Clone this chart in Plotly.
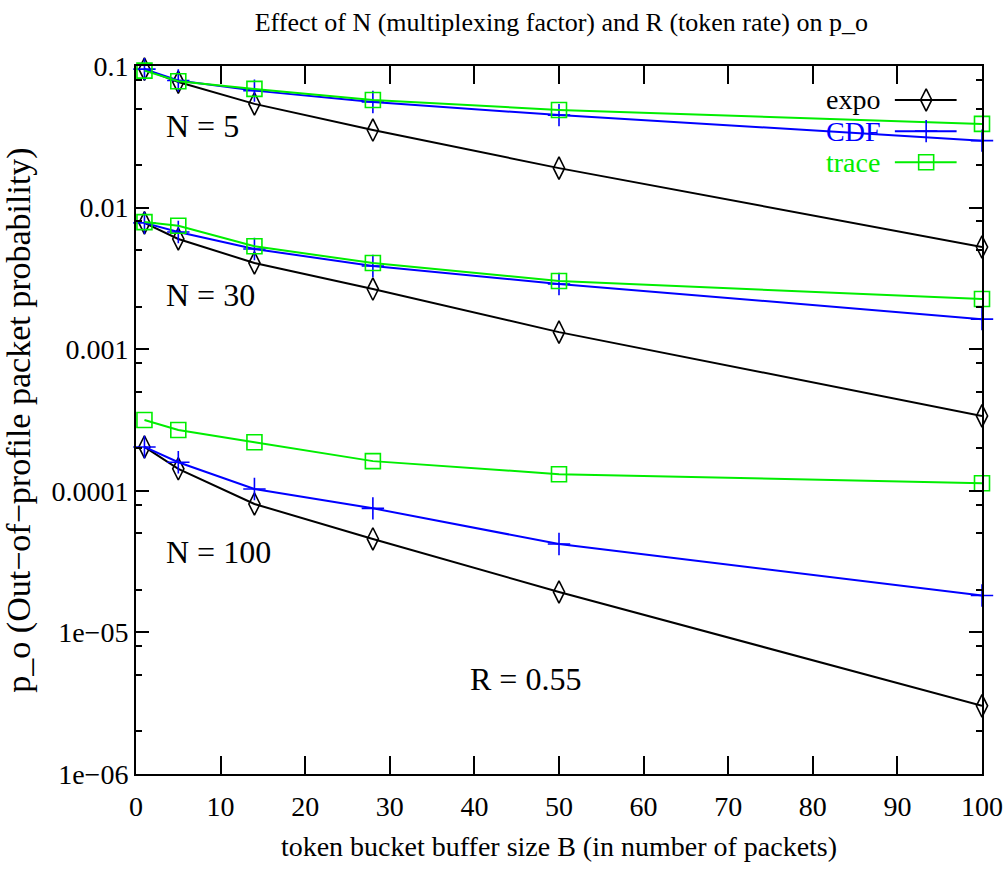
import plotly.graph_objects as go

# ---------------- data ----------------
B = [1, 5, 14, 28, 50, 100]

expo_n5 = [0.095, 0.077, 0.054, 0.0353, 0.019, 0.00527]
cdf_n5 = [0.095, 0.079, 0.067, 0.0557, 0.045, 0.0297]
trace_n5 = [0.0927, 0.078, 0.0689, 0.0575, 0.0489, 0.039]

expo_n30 = [0.0078, 0.0060, 0.00406, 0.00266, 0.00132, 0.000338]
cdf_n30 = [0.0078, 0.00673, 0.0051, 0.00387, 0.00289, 0.00163]
trace_n30 = [0.0079, 0.00745, 0.00533, 0.00406, 0.00303, 0.00226]

expo_n100 = [0.000204, 0.000143, 8.07e-5, 4.57e-5, 1.93e-5, 3.03e-6]
cdf_n100 = [0.000204, 0.000159, 0.000103, 7.52e-5, 4.21e-5, 1.82e-5]
trace_n100 = [0.000316, 0.000269, 0.00022, 0.000162, 0.000131, 0.000113]

series_names = ["expo", "CDF", "trace"]
x_ticks = [0, 10, 20, 30, 40, 50, 60, 70, 80, 90, 100]
y_ticks = [0.1, 0.01, 0.001, 0.0001, 1e-5, 1e-6]
y_tick_labels = ["0.1", "0.01", "0.001", "0.0001", "1e\u221205", "1e\u221206"]
y_minor = [m * 10.0 ** e for e in range(-6, -1) for m in (2, 5, 8)]

group_labels = ["N = 5", "N = 30", "N = 100"]
rate_label = "R = 0.55"

# ---------------- styles ----------------
FONT = "Liberation Serif"
styles = {
    "expo": dict(color="black", symbol="diamond-tall-open", size=16),
    "CDF": dict(color="#0000ff", symbol="cross-thin-open", size=16),
    "trace": dict(color="#00ee00", symbol="square-open", size=15),
}

groups = [
    {"expo": expo_n5, "CDF": cdf_n5, "trace": trace_n5},
    {"expo": expo_n30, "CDF": cdf_n30, "trace": trace_n30},
    {"expo": expo_n100, "CDF": cdf_n100, "trace": trace_n100},
]

fig = go.Figure()
for g in groups:
    for name in series_names:
        st = styles[name]
        fig.add_trace(go.Scatter(
            x=B, y=g[name], mode="lines+markers", showlegend=False,
            line=dict(color=st["color"], width=2),
            marker=dict(symbol=st["symbol"], size=st["size"],
                        color=st["color"], line=dict(color=st["color"], width=1.6)),
            cliponaxis=False, name=name,
        ))

# ---------------- custom gnuplot-style key ----------------
key_y = [0.952, 0.908, 0.864]
for name, ky in zip(series_names, key_y):
    st = styles[name]
    fig.add_trace(go.Scatter(
        x=[0.897, 0.970], y=[ky, ky], mode="lines", xaxis="x2", yaxis="y2",
        line=dict(color=st["color"], width=2), showlegend=False, hoverinfo="skip"))
    fig.add_trace(go.Scatter(
        x=[0.934], y=[ky], mode="markers", xaxis="x2", yaxis="y2",
        marker=dict(symbol=st["symbol"], size=st["size"], color=st["color"],
                    line=dict(color=st["color"], width=1.6)),
        showlegend=False, hoverinfo="skip"))
    fig.add_annotation(x=0.882, y=ky, xref="paper", yref="paper", text=name,
                       showarrow=False, xanchor="right", yanchor="middle",
                       font=dict(family=FONT, size=28, color=st["color"]))

# ---------------- labels inside the plot ----------------
label_pos = [(7.9, -1.424), (8.8, -2.615), (9.7, -4.43)]
for txt, (lx, ly) in zip(group_labels, label_pos):
    fig.add_annotation(x=lx, y=ly, xref="x", yref="y", text=txt, showarrow=False,
                       font=dict(family=FONT, size=32, color="black"))
fig.add_annotation(x=46, y=-5.33, xref="x", yref="y", text=rate_label, showarrow=False,
                   font=dict(family=FONT, size=32, color="black"))

axis_common = dict(showgrid=False, zeroline=False, showline=True, linecolor="black",
                   linewidth=2, mirror="ticks", ticks="inside", tickcolor="black",
                   tickwidth=1.5, automargin=False)

fig.update_layout(
    width=1006, height=875,
    paper_bgcolor="white", plot_bgcolor="white",
    margin=dict(l=136, r=24, t=66, b=101, autoexpand=False),
    font=dict(family=FONT, color="black"),
    title=dict(text="Effect of N (multiplexing factor) and R (token rate) on p_o",
               x=0.558, xanchor="center", y=0.975, yanchor="middle",
               font=dict(family=FONT, size=26, color="black")),
    xaxis=dict(range=[0, 100], tickvals=x_ticks, ticklen=18, ticklabelstandoff=6,
               tickfont=dict(family=FONT, size=28),
               title=dict(text="token bucket buffer size B (in number of packets)",
                          font=dict(family=FONT, size=28), standoff=16),
               **axis_common),
    yaxis=dict(type="log", range=[-6, -1], tickvals=y_ticks, ticktext=y_tick_labels,
               ticklen=13, tickfont=dict(family=FONT, size=28),
               minor=dict(tickvals=y_minor, ticks="inside", ticklen=6,
                          tickcolor="black", tickwidth=1.5),
               title=dict(text="p_o (Out\u2212of\u2212profile packet probability)",
                          font=dict(family=FONT, size=34), standoff=18),
               **axis_common),
    xaxis2=dict(range=[0, 1], overlaying="x", visible=False),
    yaxis2=dict(range=[0, 1], overlaying="y", visible=False),
)

fig.write_html("out.html", config={"displayModeBar": False},
               post_script="document.body.style.margin='0';document.body.style.padding='0';")
